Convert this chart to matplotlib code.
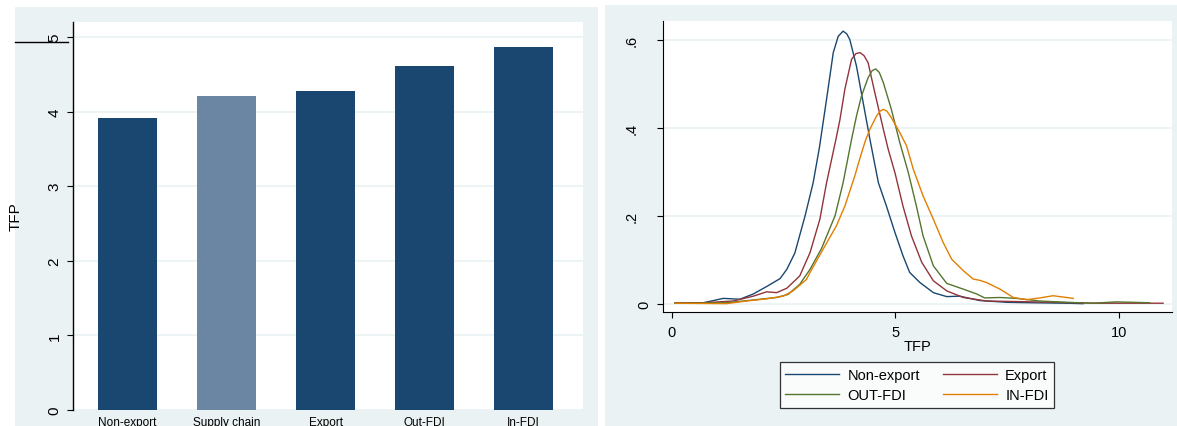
import numpy as np
import matplotlib.pyplot as plt
from matplotlib.patches import Rectangle
from matplotlib.lines import Line2D
from matplotlib.transforms import ScaledTranslation

plt.rcParams['font.family'] = ['Liberation Sans', 'DejaVu Sans']

# bar chart: mean TFP by firm type
categorie = ['Non-export', 'Supply chain', 'Export', 'Out-FDI', 'In-FDI']
tfp_media = [3.91, 4.21, 4.27, 4.61, 4.86]
colori_barre = ['#1a476f', '#6a86a2', '#1a476f', '#1a476f', '#1a476f']

# density curves (x, y)
nonexp_x = [0.07, 0.70, 1.15, 1.52, 1.82, 2.12, 2.42, 2.57, 2.75, 2.98, 3.16, 3.30, 3.46, 3.61, 3.72,
            3.83, 3.91, 3.98, 4.13, 4.28, 4.43, 4.62, 4.80, 4.99, 5.17, 5.32, 5.55, 5.85, 6.15, 6.44,
            6.89, 7.5, 8.08, 8.83, 9.2]
nonexp_y = [0.001, 0.002, 0.012, 0.010, 0.022, 0.039, 0.057, 0.078, 0.115, 0.2, 0.275, 0.355, 0.465, 0.571, 0.608,
            0.62, 0.614, 0.601, 0.54, 0.457, 0.374, 0.275, 0.222, 0.162, 0.109, 0.071, 0.048, 0.025, 0.016, 0.017,
            0.007, 0.003, 0.002, 0.001, 0.0]

export_x = [0.07, 0.70, 1.37, 1.82, 2.12, 2.34, 2.57, 2.86, 3.09, 3.31, 3.46, 3.67, 3.76, 3.87, 4.02,
            4.12, 4.21, 4.30, 4.39, 4.54, 4.73, 4.84, 4.99, 5.17, 5.36, 5.59, 5.85, 6.15, 6.52, 7.04,
            8.08, 9.57, 10.99]
export_y = [0.002, 0.002, 0.006, 0.017, 0.027, 0.025, 0.035, 0.063, 0.116, 0.192, 0.275, 0.374, 0.419, 0.488, 0.556,
            0.569, 0.571, 0.564, 0.548, 0.48, 0.397, 0.351, 0.298, 0.222, 0.154, 0.094, 0.052, 0.029, 0.014, 0.006,
            0.004, 0.001, 0.001]

outfdi_x = [0.07, 1.22, 1.97, 2.34, 2.60, 2.86, 3.09, 3.35, 3.65, 3.83, 4.02, 4.13, 4.24, 4.39, 4.48,
            4.56, 4.64, 4.73, 4.91, 5.10, 5.29, 5.47, 5.62, 5.85, 6.15, 6.52, 6.82, 7.0, 7.34, 7.71,
            8.23, 8.83, 9.42, 9.95, 10.33, 10.69]
outfdi_y = [0.001, 0.002, 0.01, 0.014, 0.021, 0.044, 0.078, 0.126, 0.2, 0.275, 0.374, 0.427, 0.472, 0.514, 0.53,
            0.534, 0.526, 0.503, 0.442, 0.366, 0.298, 0.222, 0.154, 0.086, 0.046, 0.033, 0.022, 0.013, 0.014, 0.012,
            0.006, 0.003, 0.001, 0.004, 0.003, 0.002]

infdi_x = [0.07, 1.22, 1.67, 2.12, 2.49, 2.71, 3.01, 3.09, 3.35, 3.68, 3.87, 4.09, 4.21, 4.32, 4.43,
           4.58, 4.66, 4.73, 4.81, 4.91, 5.10, 5.25, 5.40, 5.62, 5.85, 6.07, 6.26, 6.52, 6.74, 6.89,
           7.04, 7.34, 7.64, 7.94, 8.23, 8.53, 8.98]
infdi_y = [0.001, 0.0, 0.006, 0.011, 0.017, 0.029, 0.055, 0.071, 0.118, 0.177, 0.222, 0.29, 0.332, 0.368, 0.397,
           0.427, 0.438, 0.442, 0.438, 0.423, 0.389, 0.359, 0.306, 0.245, 0.192, 0.139, 0.101, 0.075, 0.056, 0.053,
           0.048, 0.033, 0.014, 0.009, 0.013, 0.018, 0.012]

sfondo = '#eaf2f3'
W, H = 1177, 427

fig = plt.figure(figsize=(11.77, 4.27), dpi=100)

def px(x0, y0, x1, y1):
    # pixel box (top-left origin) -> figure fraction rect
    return [x0 / W, 1 - y1 / H, (x1 - x0) / W, (y1 - y0) / H]

# graph region backgrounds
for x0, y0, x1, y1 in [(15, 8, 598, 427), (605, 6, 1177, 427)]:
    r = px(x0, y0, x1, y1)
    fig.patches.append(Rectangle((r[0], r[1]), r[2], r[3], transform=fig.transFigure,
                                 facecolor=sfondo, edgecolor='none', zorder=-2))
# stray line at top left
fig.add_artist(Line2D([15 / W, 68 / W], [1 - 43 / H, 1 - 43 / H], color='black', lw=1, zorder=-1))

# left: bar chart
ax1 = fig.add_axes(px(73, 23, 583, 411))
xpos = np.arange(len(categorie))
ax1.bar(xpos, tfp_media, width=0.59, color=colori_barre, zorder=3)
ax1.set_xlim(-0.55, 4.6)
ax1.set_ylim(0, 5.2)
ax1.set_yticks([0, 1, 2, 3, 4, 5])
ax1.set_yticklabels(['0', '1', '2', '3', '4', '5'], rotation=90, va='center', fontsize=11)
ax1.set_xticks(xpos)
ax1.set_xticklabels(categorie, fontsize=8.5)
ax1.tick_params(axis='x', length=0, pad=4)
ax1.tick_params(axis='y', length=4.3, width=0.8, pad=4)
ax1.set_ylabel('TFP', fontsize=11, labelpad=18)
ax1.grid(axis='y', color=sfondo, lw=1.2, zorder=0)
for s in ['top', 'right', 'bottom']:
    ax1.spines[s].set_visible(False)
ax1.spines['left'].set_linewidth(1)

# right: kernel densities
ax2 = fig.add_axes(px(663, 22, 1172, 313))
l1, = ax2.plot(nonexp_x, nonexp_y, color='#1a476f', lw=1, label='Non-export')
l2, = ax2.plot(export_x, export_y, color='#90353b', lw=1, label='Export')
l3, = ax2.plot(outfdi_x, outfdi_y, color='#55752f', lw=1, label='OUT-FDI')
l4, = ax2.plot(infdi_x, infdi_y, color='#e37e00', lw=1, label='IN-FDI')
ax2.set_xlim(-0.2, 11.19)
ax2.set_ylim(-0.019, 0.643)
ax2.set_xticks([0, 5, 10])
ax2.set_xticklabels(['0', '5', '10'], fontsize=10.5)
ax2.set_yticks([0, 0.2, 0.4, 0.6])
ax2.set_yticklabels(['0', '.2', '.4', '.6'], rotation=90, va='center', fontsize=10.5)
ax2.tick_params(axis='x', length=4.3, width=0.8, pad=5)
ax2.tick_params(axis='y', length=4.3, width=0.8, pad=13)
ax2.set_xlabel('TFP', fontsize=10.5, labelpad=0)
ax2.grid(axis='y', color=sfondo, lw=1.2, zorder=0)
for s in ['top', 'right']:
    ax2.spines[s].set_visible(False)

leg = ax2.legend([l1, l3, l2, l4], ['Non-export', 'OUT-FDI', 'Export', 'IN-FDI'],
                 ncol=2, loc='upper center', bbox_to_anchor=(917 / W, 1 - 363 / H),
                 bbox_transform=fig.transFigure, fontsize=10.5, frameon=True, fancybox=False,
                 edgecolor='black', handlelength=3.7, columnspacing=1.6, handletextpad=0.55,
                 borderpad=0.4, labelspacing=0.4, borderaxespad=0)
leg.get_frame().set_linewidth(0.9)

# Stata places the "0" label a bit closer to the axis
lab0 = ax2.get_yticklabels()[0]
lab0.set_transform(lab0.get_transform() + ScaledTranslation(12 / 100, 0, fig.dpi_scale_trans))

fig.savefig('out.png', dpi=100)
